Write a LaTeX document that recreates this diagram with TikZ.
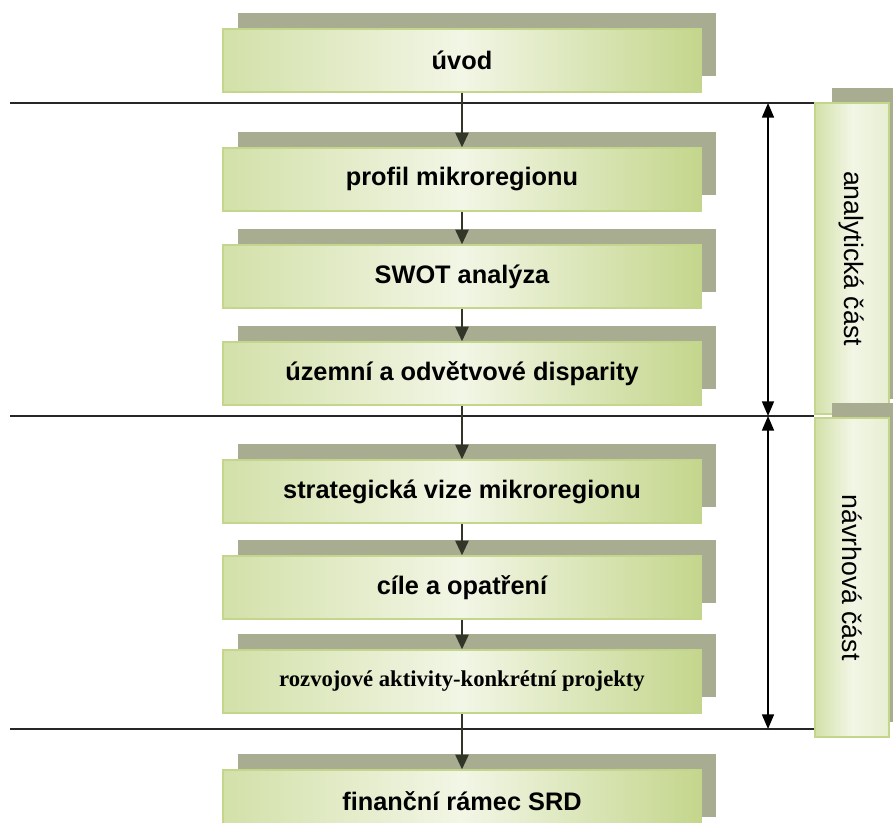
\documentclass[tikz,border=0pt]{standalone}
\usepackage{fontspec}
\setmainfont{Liberation Sans}
\newfontfamily\timesfont{Liberation Serif}
\usepackage{xcolor}
\usetikzlibrary{arrows.meta,shadows}

\definecolor{boxgreen}{RGB}{196,214,140}
\definecolor{boxlight}{RGB}{242,246,230}
\definecolor{boxshade}{RGB}{168,172,145}
\definecolor{arrowdark}{RGB}{50,54,40}

\tikzset{
  stage/.style={draw=boxgreen, line width=1.1pt, inner sep=0pt,
    left color=boxgreen!75, right color=boxgreen, middle color=boxlight,
    minimum width=358.5pt, minimum height=47.25pt,
    font=\fontsize{19}{22}\selectfont\bfseries,
    general shadow={fill=boxshade, shadow xshift=11.5pt, shadow yshift=12pt}},
  part/.style={draw=boxgreen, line width=1.1pt, inner sep=0pt,
    left color=boxgreen!75, right color=boxgreen!40, middle color=boxlight,
    minimum height=55.5pt, rotate=-90,
    font=\fontsize{20}{24}\selectfont,
    general shadow={fill=boxshade, shadow xshift=13pt, shadow yshift=11pt}},
  flow/.style={arrowdark, line width=1.3pt, -{Triangle[length=11pt,width=10pt]}},
  span/.style={black, line width=1.3pt,
    {Triangle[length=11pt,width=9pt]}-{Triangle[length=11pt,width=9pt]}},
  sep/.style={black!85, line width=1.3pt}
}

\begin{document}
\begin{tikzpicture}[x=0.75pt,y=0.75pt,yscale=-1,xscale=1]
   \useasboundingbox (0,0) rectangle (893,823);

   % Stage boxes
   \node [stage] (uvod) at (462,60.5) {úvod};
   \node [stage] (profil) at (462,179.5) {profil mikroregionu};
   \node [stage] (swot) at (462,276.5) {SWOT analýza};
   \node [stage] (disp) at (462,373.5) {územní a odvětvové disparity};
   \node [stage] (vize) at (462,491.5) {strategická vize mikroregionu};
   \node [stage] (cile) at (462,587.5) {cíle a opatření};
   \node [stage, font=\fontsize{17}{20}\selectfont\timesfont\bfseries] (akt) at (462,681.5) {rozvojové aktivity-konkrétní projekty};
   \node [stage] (fin) at (462,801.5) {finanční rámec SRD};

   % Part boxes
   \node [part, minimum width=233.25pt] (ana) at (852,258.5) {analytická část};
   \node [part, minimum width=239.25pt] (nav) at (852,577.5) {návrhová část};

   % Separator lines
   \coordinate (s1) at (10,103);
   \coordinate (s2) at (10,416);
   \coordinate (s3) at (10,729);
   \draw [sep] (s1) -- (s1 -| ana.south);
   \draw [sep] (s2) -- (s2 -| ana.south);
   \draw [sep] (s3) -- (s3 -| nav.south);

   % Flow arrows
   \draw [flow] (uvod) -- (profil);
   \draw [flow] (profil) -- (swot);
   \draw [flow] (swot) -- (disp);
   \draw [flow] (disp) -- (vize);
   \draw [flow] (vize) -- (cile);
   \draw [flow] (cile) -- (akt);
   \draw [flow] (akt) -- (fin);

   % Span arrows
   \coordinate (d1) at (768,103);
   \coordinate (d2) at (768,416);
   \coordinate (d3) at (768,729);
   \draw [span] (d1) -- (d2);
   \draw [span] (d2) -- (d3);
\end{tikzpicture}
\end{document}
